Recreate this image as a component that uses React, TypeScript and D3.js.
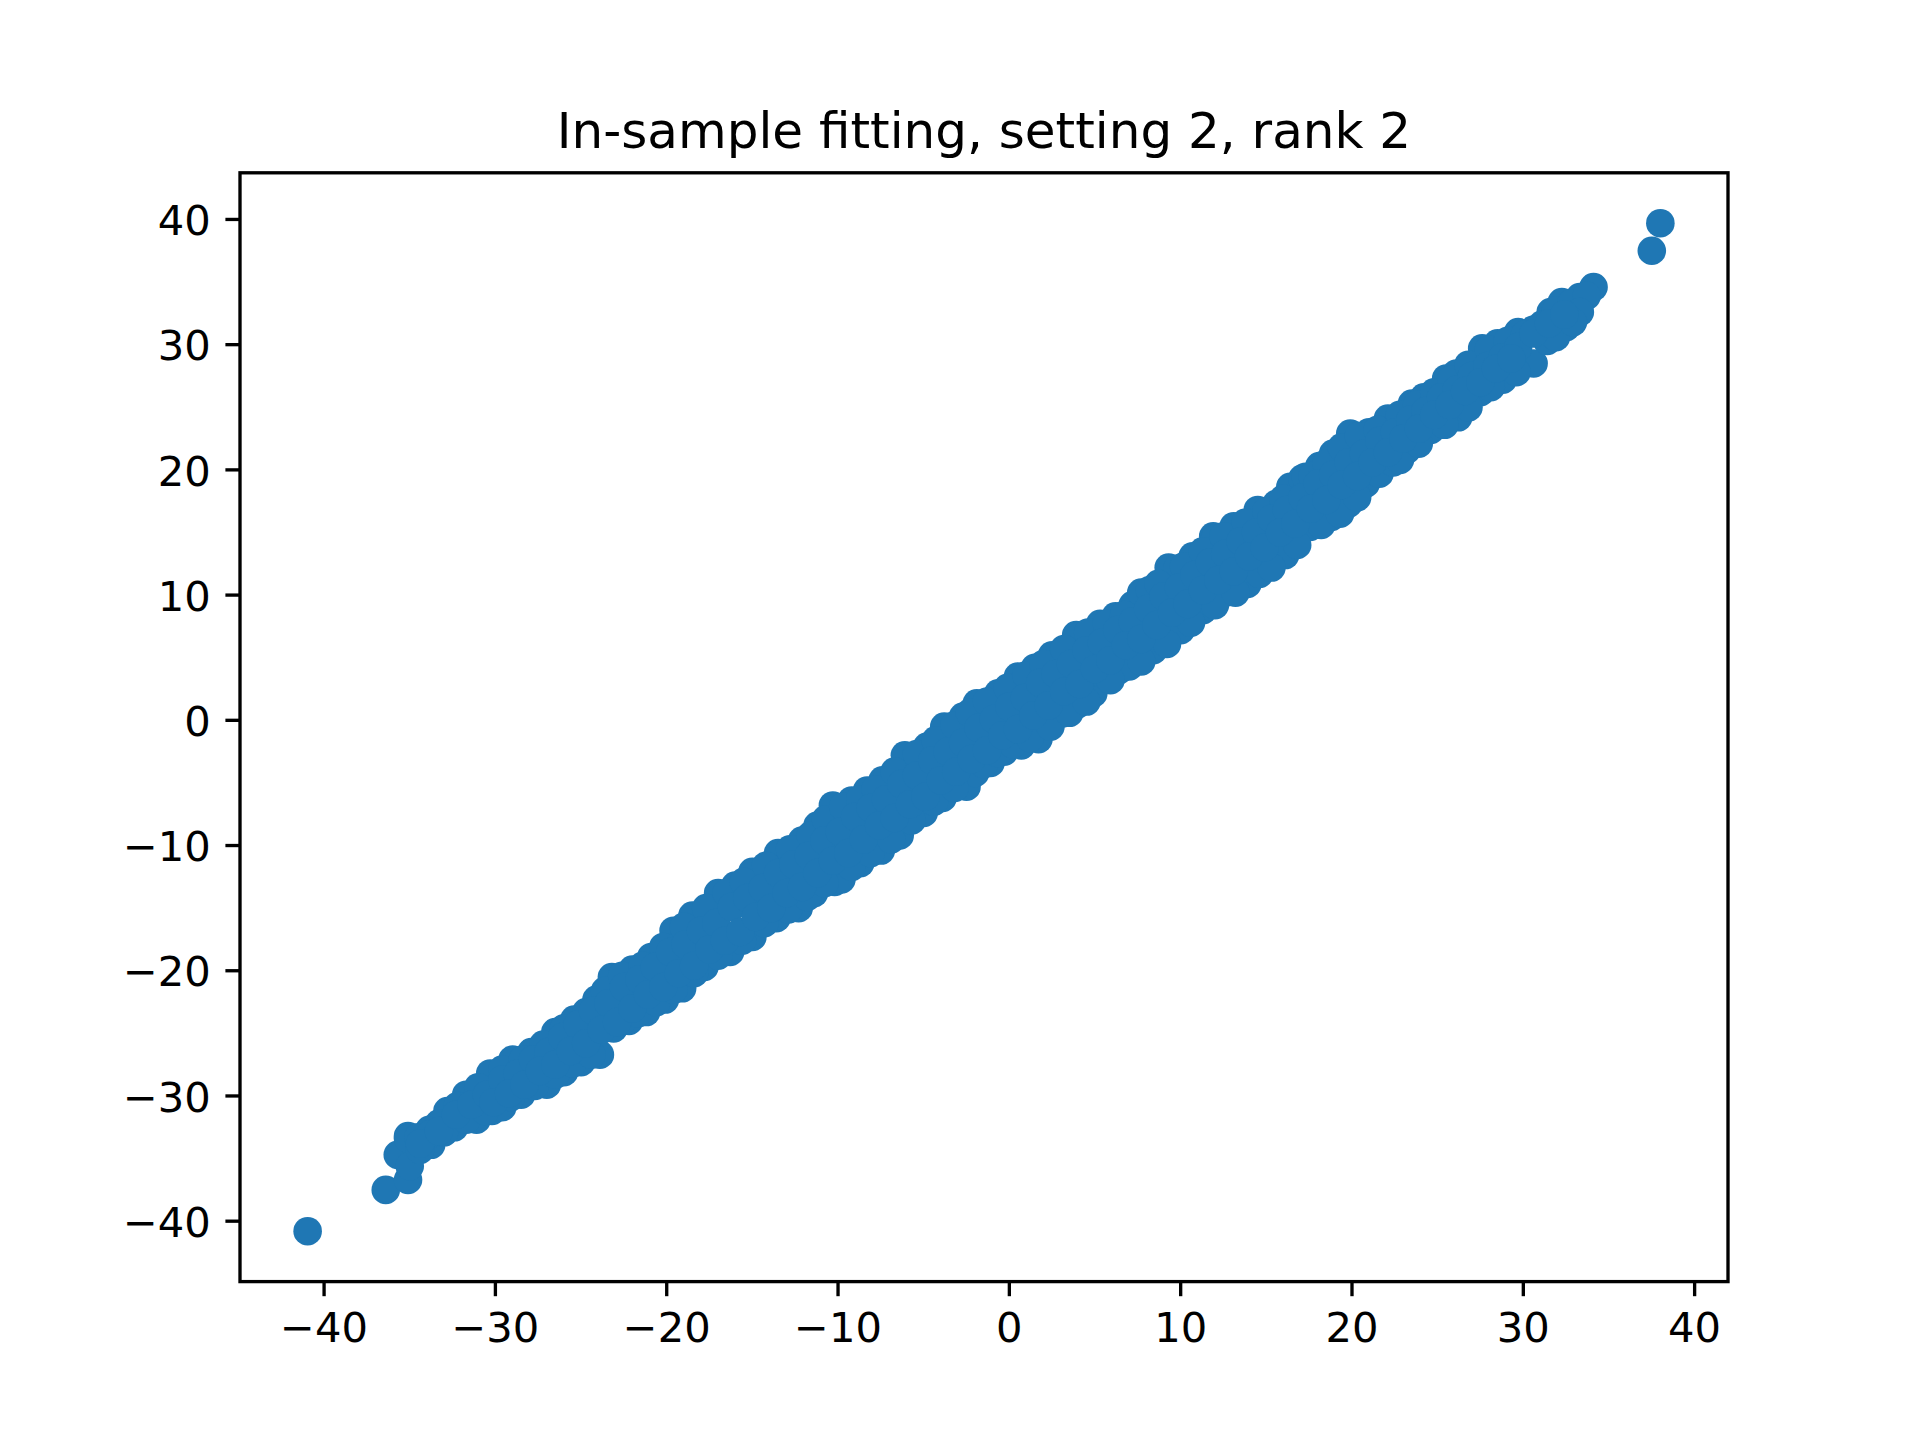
import React from 'react';
import * as d3 from 'd3';

const title = 'In-sample fitting, setting 2, rank 2';
const xTicks = [-40, -30, -20, -10, 0, 10, 20, 30, 40];
const yTicks = [-40, -30, -20, -10, 0, 10, 20, 30, 40];

// isolated points at both ends
const extremePoints: [number, number][] = [
  [-40.96, -40.8], [-36.4, -37.5], [-35.1, -36.7], [-35.7, -34.7], [-35.0, -35.6],
  [37.5, 37.5], [38.0, 39.7],
];

// points tracing the upper edge of the band
const upperEdge: [number, number][] = [
  [-35.1, -33.2], [-35.1, -33.4], [-33.85, -32.7], [-32.8, -31.2], [-31.7, -29.9], [-30.3, -28.2],
  [-29.0, -27.1], [-27.9, -26.5], [-26.5, -24.9], [-25.4, -23.9], [-24.1, -22.3],
  [-23.2, -20.5], [-22.0, -19.9], [-20.9, -18.9], [-19.6, -16.8], [-18.5, -15.6],
  [-17.0, -13.8], [-16.0, -13.2], [-15.0, -12.1], [-13.5, -10.6], [-12.1, -9.6],
  [-11.2, -8.4], [-10.3, -6.8], [-9.2, -6.4], [-8.3, -5.6], [-7.4, -4.8], [-6.1, -2.8],
  [-4.8, -2.1], [-3.8, -0.5], [-2.7, 0.3], [-1.9, 1.35], [-0.65, 2.15], [0.5, 3.5],
  [1.5, 4.2], [2.5, 5.2], [3.9, 6.8], [5.3, 7.7], [6.2, 8.3], [7.2, 9.2], [7.7, 10.2],
  [8.2, 10.4], [9.3, 12.2], [9.8, 12.1], [10.7, 13.1], [11.9, 14.7], [12.0, 14.5],
  [13.1, 15.5], [14.5, 16.8], [15.6, 17.3], [16.4, 18.65], [17.1, 19.3], [17.3, 19.45],
  [18.1, 20.3], [18.9, 21.3], [19.9, 22.9], [21.0, 23.0], [22.1, 24.1], [23.5, 25.3],
  [24.2, 25.8], [25.5, 27.3], [26.1, 27.7], [27.6, 29.7], [28.5, 30.1], [29.7, 31.0],
  [30.6, 31.2], [31.6, 32.6], [32.25, 33.4], [33.3, 33.8], [34.1, 34.6],
];

// points just inside the upper edge
const upperInner: [number, number][] = [
  [-34.5, -33.3], [-33.3, -32.2], [-32.2, -30.8], [-31.0, -29.3], [-29.6, -27.9],
  [-28.4, -27.1], [-27.2, -25.9], [-26.0, -24.6], [-24.7, -23.3], [-23.6, -21.6],
  [-22.6, -20.4], [-21.4, -19.6], [-20.2, -18.1], [-19.0, -16.5], [-17.7, -15.0],
  [-16.5, -13.8], [-15.5, -12.9], [-14.2, -11.6], [-12.8, -10.3], [-11.6, -9.2],
  [-10.7, -7.9], [-9.7, -6.9], [-8.7, -6.3], [-7.8, -5.5], [-6.7, -4.1], [-5.4, -2.7],
  [-4.3, -1.6], [-3.2, -0.4], [-2.3, 0.6], [-1.3, 1.5], [-0.1, 2.6], [1.0, 3.6],
  [2.0, 4.5], [3.2, 5.7], [4.6, 7.0], [5.7, 7.7], [6.7, 8.4], [8.7, 10.9], [10.2, 12.3],
  [11.3, 13.5], [12.5, 14.7], [13.8, 15.8], [15.0, 16.7], [16.0, 17.7], [17.7, 19.5],
  [18.5, 20.5], [19.4, 21.8], [20.4, 22.7], [21.5, 23.2], [22.8, 24.4], [23.8, 25.2],
  [24.8, 26.2], [25.8, 27.2], [26.8, 28.4], [28.0, 29.6], [29.1, 30.3], [30.1, 30.8],
  [31.1, 31.6], [31.9, 32.7], [32.8, 33.3], [33.7, 33.9],
];

// points tracing the lower edge of the band
const lowerEdge: [number, number][] = [
  [-33.75, -33.9], [-33.75, -33.0], [-32.4, -32.5], [-31.1, -31.9], [-30.2, -31.2],
  [-29.6, -30.9], [-28.5, -29.9], [-27.0, -29.1], [-26.0, -28.1], [-25.0, -27.3],
  [-23.9, -26.7], [-23.1, -24.6], [-22.2, -24.0], [-21.2, -23.3], [-20.1, -22.3],
  [-19.1, -21.4], [-17.8, -19.7], [-16.3, -18.5], [-15.0, -17.3], [-13.6, -15.8],
  [-12.3, -15.0], [-11.4, -13.8], [-10.2, -12.9], [-9.8, -12.7], [-8.7, -11.4],
  [-7.5, -10.4], [-6.4, -9.2], [-5.0, -7.4], [-3.9, -6.2], [-2.5, -5.3], [-2.0, -4.2],
  [-1.1, -3.4], [-0.3, -2.5], [0.7, -2.0], [1.7, -1.5], [3.1, 0.55], [4.0, 1.3],
  [4.9, 2.15], [5.3, 3.8], [6.4, 4.0], [7.0, 4.3], [8.4, 5.6], [10.0, 7.2], [11.3, 8.8],
  [12.6, 10.2], [13.9, 10.9], [14.6, 11.7], [16.1, 13.2], [17.55, 15.45], [18.8, 16.25],
  [19.8, 17.3], [20.8, 18.9], [21.6, 19.7], [22.4, 20.6], [23.2, 21.6], [24.6, 23.2],
  [26.2, 24.2], [27.5, 26.2], [28.8, 27.2], [30.6, 28.5], [31.4, 30.3], [32.5, 31.4],
  [33.3, 32.6],
];

// points just inside the lower edge
const lowerInner: [number, number][] = [
  [-34.4, -34.3], [-33.0, -32.9], [-31.7, -31.9], [-30.6, -31.2], [-29.1, -30.1],
  [-27.7, -29.2], [-26.5, -28.3], [-25.5, -27.4], [-24.4, -26.7], [-22.6, -24.0],
  [-21.7, -23.4], [-20.6, -22.5], [-19.6, -21.5], [-18.4, -20.2], [-17.0, -18.8],
  [-15.6, -17.6], [-14.3, -16.2], [-12.9, -15.1], [-11.8, -14.1], [-10.8, -13.0],
  [-9.2, -11.7], [-8.1, -10.6], [-6.9, -9.5], [-5.7, -8.0], [-4.4, -6.5], [-3.2, -5.4],
  [-1.5, -3.5], [-0.7, -2.6], [0.2, -1.9], [1.2, -1.4], [2.4, -0.5], [3.5, 0.6],
  [4.5, 1.5], [5.9, 3.2], [7.7, 4.7], [9.2, 6.1], [10.6, 7.8], [12.0, 9.2], [13.2, 10.2],
  [15.3, 12.2], [16.8, 14.0], [18.2, 15.6], [19.3, 16.5], [20.3, 17.8], [22.8, 20.8],
  [23.9, 22.1], [25.4, 23.6], [26.8, 25.0], [28.1, 26.6], [29.6, 27.8], [31.9, 30.6],
  [32.9, 31.8],
];

// points inside the band, upper half
const coreUpper: [number, number][] = [
  [-34.4, -33.8], [-33.3, -32.8], [-32.3, -31.5], [-31.4, -30.7], [-30.5, -29.9],
  [-29.6, -28.7], [-28.7, -28.2], [-27.8, -27.1], [-26.9, -26.5], [-26.1, -25.3],
  [-25.2, -24.3], [-24.3, -23.2], [-23.4, -22.6], [-22.5, -21.3], [-21.6, -20.7],
  [-20.7, -19.7], [-19.8, -18.5], [-18.9, -17.9], [-18.0, -16.8], [-17.1, -16.2],
  [-16.2, -14.9], [-15.3, -14.2], [-14.4, -13.4], [-13.5, -12.2], [-12.6, -11.5],
  [-11.7, -10.8], [-10.8, -9.6], [-9.9, -8.9], [-9.0, -7.7], [-8.1, -7.0], [-7.2, -6.3],
  [-6.3, -5.1], [-5.4, -4.4], [-4.5, -3.2], [-3.6, -2.5], [-2.7, -1.8], [-1.8, -0.6],
  [-0.9, 0.1], [0.0, 1.1], [0.9, 1.8], [1.8, 3.0], [2.7, 3.7], [3.6, 4.5], [4.5, 5.6],
  [5.4, 6.2], [6.3, 7.2], [7.2, 7.9], [8.1, 8.9], [9.0, 9.9], [9.9, 10.6], [10.8, 11.6],
  [11.7, 12.6], [12.6, 13.3], [13.5, 14.3], [14.4, 15.0], [15.3, 16.1], [16.2, 16.8],
  [17.1, 17.8], [18.0, 18.9], [18.9, 19.6], [19.8, 20.6], [20.7, 21.3], [21.6, 22.3],
  [22.5, 23.0], [23.4, 24.0], [24.3, 24.7], [25.2, 25.8], [26.1, 26.4], [27.0, 27.5],
  [27.9, 28.3], [28.8, 29.0], [29.7, 29.8], [30.6, 30.9], [31.5, 31.7], [32.4, 32.4],
];

// points inside the band, lower half
const coreLower: [number, number][] = [
  [-30.1, -30.5], [-29.2, -29.8], [-28.3, -29.1], [-27.4, -28.0], [-26.5, -27.5],
  [-25.6, -26.4], [-24.7, -25.8], [-23.8, -24.7], [-22.9, -24.1], [-22.0, -23.0],
  [-21.1, -21.9], [-20.2, -21.3], [-19.3, -20.2], [-18.4, -19.6], [-17.5, -18.3],
  [-16.6, -17.6], [-15.7, -16.9], [-14.8, -15.7], [-13.9, -15.0], [-13.0, -13.8],
  [-12.1, -13.3], [-11.2, -12.2], [-10.3, -11.2], [-9.4, -10.6], [-8.5, -9.5],
  [-7.6, -8.4], [-6.7, -7.8], [-5.8, -6.7], [-4.9, -6.1], [-4.0, -4.8], [-3.1, -4.1],
  [-2.2, -3.1], [-1.3, -2.4], [-0.4, -1.2], [0.5, -0.7], [1.4, 0.4], [2.3, 1.2],
  [3.2, 2.3], [4.1, 2.9], [5.0, 4.1], [5.9, 4.8], [6.8, 6.0], [7.7, 6.5], [8.6, 7.6],
  [9.5, 8.6], [10.4, 9.3], [11.3, 10.4], [12.2, 11.2], [13.1, 11.9], [14.0, 13.1],
  [14.9, 13.8], [15.8, 15.0], [16.7, 15.7], [17.6, 16.9], [18.5, 17.6], [19.4, 18.8],
  [20.3, 19.5], [21.2, 20.6], [22.1, 21.4], [23.0, 22.5], [23.9, 23.3], [24.8, 24.4],
  [25.7, 25.2], [26.6, 26.3], [27.5, 27.0], [28.4, 28.1], [29.3, 28.9],
];

const allPoints: [number, number][] = [
  ...extremePoints, ...upperEdge, ...upperInner, ...lowerEdge, ...lowerInner,
  ...coreUpper, ...coreLower,
];

const fmt = (v: number) => (v < 0 ? '\u2212' + Math.abs(v) : String(v));

export default function App() {
  const W = 1920, H = 1440;
  const left = 240, right = 1728, top = 172.8, bottom = 1281.6;
  const lw = 3.33, tickLen = 14.6;
  const font = '"DejaVu Sans", sans-serif';

  const [xa, xb] = d3.extent(allPoints, (d) => d[0]) as [number, number];
  const [ya, yb] = d3.extent(allPoints, (d) => d[1]) as [number, number];
  const mx = (xb - xa) * 0.05, my = (yb - ya) * 0.05;
  const x = d3.scaleLinear().domain([xa - mx, xb + mx]).range([left, right]);
  const y = d3.scaleLinear().domain([ya - my, yb + my]).range([bottom, top]);

  return (
    <div style={{ position: 'absolute', left: 0, top: 0 }}>
      <svg width={W} height={H} style={{ display: 'block', background: '#fff' }}>
        <rect x={0} y={0} width={W} height={H} fill="#fff" />
        <g>
          {allPoints.map((d, i) => (
            <circle key={i} cx={x(d[0])} cy={y(d[1])} r={14.3} fill="#1f77b4" />
          ))}
        </g>
        <rect x={left} y={top} width={right - left} height={bottom - top}
          fill="none" stroke="#000" strokeWidth={lw} strokeLinejoin="miter" />
        {xTicks.map((t) => (
          <g key={'x' + t}>
            <line x1={x(t)} x2={x(t)} y1={bottom} y2={bottom + tickLen} stroke="#000" strokeWidth={lw} />
            <text x={x(t)} y={1342} textAnchor="middle" fontFamily={font} fontSize={41.67} fill="#000">{fmt(t)}</text>
          </g>
        ))}
        {yTicks.map((t) => (
          <g key={'y' + t}>
            <line x1={left - tickLen} x2={left} y1={y(t)} y2={y(t)} stroke="#000" strokeWidth={lw} />
            <text x={left - 2 * tickLen} y={y(t) + 15.7} textAnchor="end" fontFamily={font} fontSize={41.67} fill="#000">{fmt(t)}</text>
          </g>
        ))}
        <text x={(left + right) / 2} y={148} textAnchor="middle" fontFamily={font} fontSize={50} fill="#000">{title}</text>
      </svg>
    </div>
  );
}
